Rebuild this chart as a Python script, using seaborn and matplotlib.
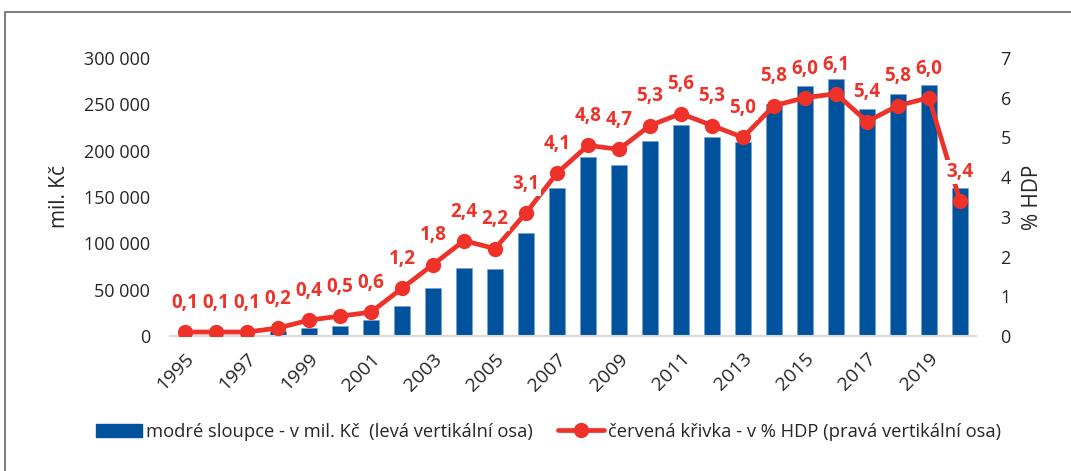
import matplotlib
matplotlib.use("Agg")
import matplotlib.pyplot as plt
import seaborn as sns
import numpy as np
import pandas as pd
from matplotlib.lines import Line2D
from matplotlib.patches import Patch

# data
years = list(range(1995, 2021))
mil_kc = [1000, 1000, 1500, 5000, 8500, 11000, 17000, 32000, 52000, 73000,
          72500, 111000, 160000, 193000, 184000, 210000, 228000, 215000,
          209000, 250000, 270000, 277000, 245000, 261000, 271000, 160000]
hdp = [0.1, 0.1, 0.1, 0.2, 0.4, 0.5, 0.6, 1.2, 1.8, 2.4, 2.2, 3.1, 4.1,
       4.8, 4.7, 5.3, 5.6, 5.3, 5.0, 5.8, 6.0, 6.1, 5.4, 5.8, 6.0, 3.4]
left_ticks = [0, 50000, 100000, 150000, 200000, 250000, 300000]
right_ticks = [0, 1, 2, 3, 4, 5, 6, 7]

df = pd.DataFrame({"year": [str(y) for y in years], "mil_kc": mil_kc, "hdp": hdp})

BLUE = "#00529C"
RED = "#EE3129"
TXT = "#262626"

sns.set_theme(style="white")
plt.rcParams['font.family'] = ['Open Sans', 'DejaVu Sans']

fig = plt.figure(figsize=(10.71, 4.71), dpi=100)
ax = fig.add_axes([169.5 / 1071, 1 - 336 / 471, 806 / 1071, 278 / 471])

sns.barplot(data=df, x="year", y="mil_kc", color=BLUE, width=0.5,
            saturation=1, edgecolor="#6f9fd0", linewidth=0.4, ax=ax)
ax.set_ylim(0, 300000)
ax.set_yticks(left_ticks)
ax.set_yticklabels([f"{t:,}".replace(",", " ") for t in left_ticks],
                   fontsize=13, color=TXT)
ax.set_ylabel("mil. Kč", fontsize=15, color=TXT, labelpad=10)
ax.set_xlabel("")
ax.set_xticks(range(0, len(years), 2))
ax.set_xticklabels([str(y) for y in years[::2]], rotation=45, ha="right",
                   rotation_mode="anchor", fontsize=14, color=TXT)
ax.tick_params(axis="x", length=0, pad=10)
ax.tick_params(axis="y", length=0, pad=14)
for s in ["top", "right", "left"]:
    ax.spines[s].set_visible(False)
ax.spines["bottom"].set_color("#d9d9d9")
ax.spines["bottom"].set_linewidth(1.5)

ax2 = ax.twinx()
xs = np.arange(len(years))
ax2.plot(xs, hdp, color=RED, linewidth=3.4, marker="o", markersize=10,
         solid_capstyle="round", zorder=3)
ax2.set_ylim(0, 7)
ax2.set_yticks(right_ticks)
ax2.set_yticklabels([str(t) for t in right_ticks], fontsize=13, color=TXT)
ax2.tick_params(axis="y", length=0, pad=18)
ax2.set_ylabel("% HDP", fontsize=15, color=TXT, rotation=90, labelpad=8)
for s in ["top", "right", "left", "bottom"]:
    ax2.spines[s].set_visible(False)
ax.set_xlim(-0.5, len(years) - 0.5)
ax2.set_xlim(-0.5, len(years) - 0.5)

for x, v in zip(xs, hdp):
    ax2.annotate(f"{v:.1f}".replace(".", ","), (x, v), xytext=(0, 21),
                 textcoords="offset points", ha="center", va="center",
                 fontsize=13.5, fontweight="bold", color=RED, zorder=4,
                 bbox=dict(boxstyle="square,pad=0.1", fc="white", ec="none"))

handles = [Patch(facecolor=BLUE, edgecolor=BLUE),
           Line2D([0], [0], color=RED, linewidth=3.4, marker="o", markersize=10)]
labels = ["modré sloupce - v mil. Kč  (levá vertikální osa)",
          "červená křivka - v % HDP (pravá vertikální osa)"]
fig.legend(handles, labels, loc="center", bbox_to_anchor=(0.512, 0.083),
           ncol=2, frameon=False, fontsize=13.2, handlelength=2.5,
           handletextpad=0.2, columnspacing=1.4, labelcolor=TXT)

# outer frame
fx = 5 / 1071
fy = 1 - 12 / 471
fig.add_artist(Line2D([fx, fx, 1], [0, fy, fy], transform=fig.transFigure,
                      color="#7f7f7f", linewidth=1.5))

fig.savefig("out.png", dpi=100)
